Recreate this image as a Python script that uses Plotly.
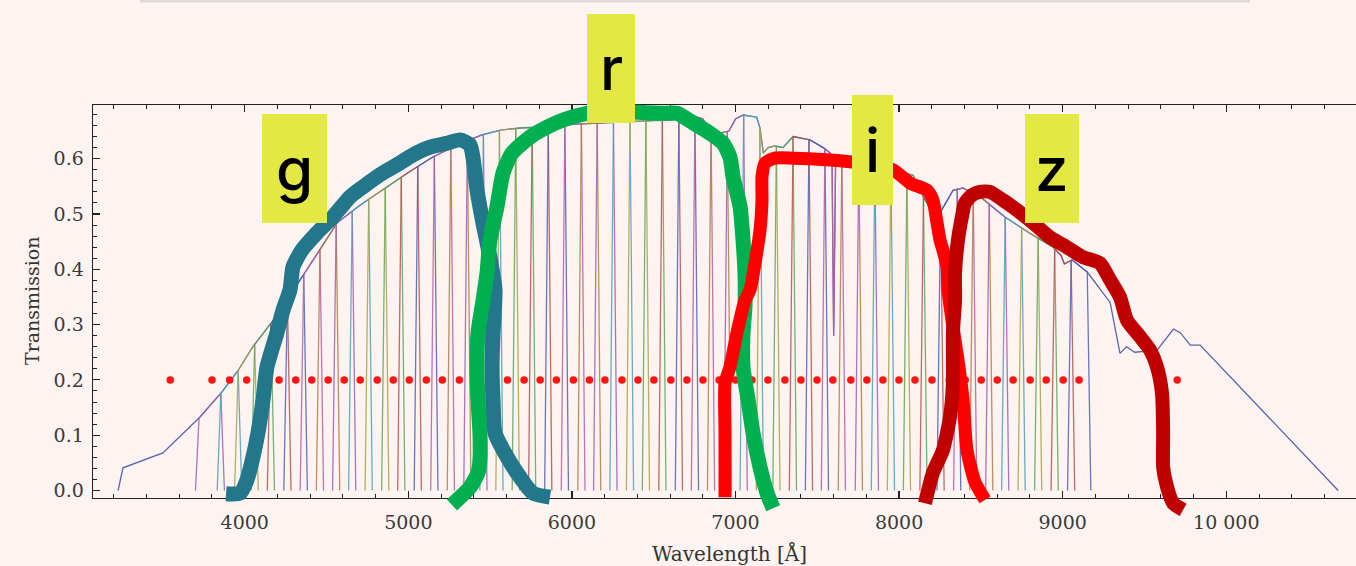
import numpy as np
import plotly.graph_objects as go

W, H = 1356, 566
BG = "#fdf4f1"

# ---------------- data ----------------
# overall system transmission envelope (wavelength in Angstrom, transmission)
env_wl = [3226, 3256, 3500, 3727, 3860, 3960, 4050, 4175, 4350, 4460, 4565, 4700, 4850,
          5000, 5150, 5300, 5450, 5570, 5700, 5850, 6000, 6200, 6400, 6600, 6700, 6765,
          6800, 6830, 6900, 6960, 7000, 7047, 7130, 7150, 7170, 7200, 7242, 7290, 7352,
          7456, 7537, 7580, 7590, 7600, 7612, 7650, 7750, 7850, 7966, 8085, 8150, 8200,
          8250, 8330, 8390, 8500, 8649, 8800, 8942, 8990, 9010, 9058, 9150, 9290, 9350,
          9390, 9440, 9577, 9677, 9720, 9780, 9840, 10684]
env_t = [0.0, 0.041, 0.068, 0.133, 0.178, 0.217, 0.26, 0.308, 0.386, 0.435, 0.484, 0.515, 0.545,
         0.575, 0.603, 0.625, 0.643, 0.652, 0.656, 0.657, 0.662, 0.665, 0.668, 0.670, 0.672, 0.675,
         0.672, 0.657, 0.646, 0.650, 0.672, 0.679, 0.675, 0.655, 0.61, 0.62, 0.623, 0.62, 0.64,
         0.634, 0.62, 0.61, 0.60, 0.28, 0.60, 0.60, 0.595, 0.59, 0.58, 0.57, 0.53, 0.505,
         0.502, 0.543, 0.547, 0.53, 0.494, 0.465, 0.44, 0.425, 0.41, 0.417, 0.395, 0.34, 0.248,
         0.26, 0.25, 0.254, 0.292, 0.285, 0.263, 0.263, 0.0]

# filter central wavelengths (red dots)
dot_wl = [3545, 3800, 3908, 4012, 4110, 4210, 4312, 4410, 4510, 4608, 4706, 4810, 4908,
          5006, 5110, 5208, 5312, 5410, 5508, 5606, 5708, 5806, 5905, 6009, 6107, 6202,
          6306, 6404, 6501, 6605, 6703, 6801, 6900, 7000, 7100, 7198, 7302, 7400, 7498,
          7595, 7705, 7803, 7901, 7999, 8097, 8201, 8306, 8404, 8502, 8600, 8697, 8801,
          8899, 9003, 9100, 9700]
dot_t = [0.2] * len(dot_wl)
narrow_first_edge = 3721
narrow_last_edge = 9150

# hand-drawn broad band outlines
g_wl = [3886, 3971, 4014, 4051, 4081, 4112, 4136, 4197, 4234, 4277, 4295, 4350, 4442, 4540,
        4644, 4723, 4827, 4931, 5029, 5133, 5236, 5316, 5377, 5395, 5420, 5456, 5499, 5530,
        5518, 5512, 5518, 5530, 5603, 5683, 5762, 5866]
g_t = [-0.006, -0.005, 0.019, 0.061, 0.104, 0.164, 0.223, 0.285, 0.326, 0.363, 0.404, 0.435,
       0.466, 0.495, 0.531, 0.549, 0.571, 0.589, 0.607, 0.621, 0.628, 0.634, 0.625, 0.603,
       0.543, 0.484, 0.422, 0.363, 0.285, 0.223, 0.164, 0.104, 0.061, 0.024, -0.005, -0.012]

r_wl = [5267, 5377, 5426, 5438, 5438, 5426, 5420, 5426, 5457, 5481, 5499, 5542, 5579, 5634,
        5744, 5848, 5946, 6092, 6233, 6386, 6557, 6642, 6740, 6844, 6924, 6966, 6985, 7028,
        7046, 7058, 7058, 7046, 7046, 7077, 7107, 7150, 7193, 7230]
r_t = [-0.026, 0.006, 0.032, 0.055, 0.104, 0.164, 0.223, 0.285, 0.344, 0.393, 0.453, 0.513,
       0.574, 0.610, 0.639, 0.657, 0.670, 0.682, 0.686, 0.684, 0.682, 0.682, 0.665, 0.646,
       0.628, 0.603, 0.567, 0.513, 0.453, 0.393, 0.332, 0.285, 0.223, 0.164, 0.104, 0.042,
       -0.005, -0.032]

i_wl = [6936, 6936, 6936, 6966, 7009, 7058, 7089, 7119, 7150, 7162, 7162, 7180, 7241, 7351,
        7559, 7712, 7834, 7963, 8067, 8171, 8207, 8232, 8250, 8268, 8293, 8299, 8323, 8360,
        8391, 8415, 8464, 8525]
i_t = [-0.012, 0.104, 0.194, 0.223, 0.285, 0.344, 0.363, 0.411, 0.471, 0.525, 0.567, 0.592,
       0.601, 0.601, 0.598, 0.594, 0.589, 0.580, 0.556, 0.543, 0.525, 0.484, 0.453, 0.435,
       0.404, 0.363, 0.308, 0.236, 0.164, 0.073, 0.015, -0.017]

z_wl = [8158, 8207, 8268, 8311, 8329, 8329, 8342, 8342, 8360, 8384, 8403, 8445, 8494, 8555,
        8635, 8721, 8819, 8922, 9026, 9124, 9228, 9289, 9350, 9393, 9473, 9534, 9577, 9607,
        9614, 9614, 9638, 9675, 9736]
z_t = [-0.023, 0.032, 0.073, 0.133, 0.194, 0.285, 0.344, 0.393, 0.453, 0.495, 0.520, 0.534,
       0.540, 0.540, 0.525, 0.507, 0.484, 0.458, 0.440, 0.422, 0.411, 0.381, 0.350, 0.308,
       0.278, 0.254, 0.223, 0.176, 0.104, 0.042, 0.006, -0.023, -0.035]

x_tickvals = [4000, 5000, 6000, 7000, 8000, 9000, 10000]
x_ticktext = ["4000", "5000", "6000", "7000", "8000", "9000", "10 000"]
y_tickvals = [0.0, 0.1, 0.2, 0.3, 0.4, 0.5, 0.6]
y_ticktext = ["0.0", "0.1", "0.2", "0.3", "0.4", "0.5", "0.6"]

band_labels = ["g", "r", "i", "z"]

# ---------------- figure ----------------
fig = go.Figure()

fig.add_trace(go.Scatter(x=env_wl, y=env_t, mode="lines",
                         line=dict(color="#5a62ae", width=1.3),
                         xaxis="x", yaxis="y", hoverinfo="skip", showlegend=False))

palette = ["#9a5fb0", "#4f9fb5", "#a7a24b", "#5ca65a", "#b0524f", "#4f5fb3", "#b55fa0", "#b07a45"]
centres = dot_wl[1:-1]
edges = [narrow_first_edge] + [(a + b) / 2 for a, b in zip(centres[:-1], centres[1:])] + [narrow_last_edge]
leg = 22
env_wl_a = np.array(env_wl, float)
env_t_a = np.array(env_t, float)
for k in range(len(centres)):
    lo, hi = edges[k], edges[k + 1]
    inside = (env_wl_a > lo) & (env_wl_a < hi)
    xs = [lo - leg, lo] + list(env_wl_a[inside]) + [hi, hi + leg]
    ys = [0.0, float(np.interp(lo, env_wl_a, env_t_a))] + list(env_t_a[inside]) + \
         [float(np.interp(hi, env_wl_a, env_t_a)), 0.0]
    fig.add_trace(go.Scatter(x=xs, y=ys, mode="lines",
                             line=dict(color=palette[k % len(palette)], width=1.3),
                             opacity=0.85, xaxis="x", yaxis="y",
                             hoverinfo="skip", showlegend=False))

fig.add_trace(go.Scatter(x=dot_wl, y=dot_t, mode="markers",
                         marker=dict(color="#ff1414", size=7.5),
                         xaxis="x", yaxis="y", hoverinfo="skip", showlegend=False))

for xs, ys, col, wd in [(g_wl, g_t, "#22788a", 15), (r_wl, r_t, "#00b050", 15),
                        (i_wl, i_t, "#ff0000", 13), (z_wl, z_t, "#c00000", 14)]:
    fig.add_trace(go.Scatter(x=xs, y=ys, mode="lines",
                             line=dict(color=col, width=wd, shape="spline", smoothing=0.6),
                             xaxis="x2", yaxis="y2", hoverinfo="skip", showlegend=False))

# ---------------- layout ----------------
def px_x(p):
    return p / W

def px_y(p):
    return 1 - p / H

tickfont = dict(family="DejaVu Serif", size=19, color="#3a3a3a")
fig.update_layout(
    width=W, height=H, autosize=False,
    margin=dict(l=0, r=0, t=0, b=0, pad=0),
    paper_bgcolor=BG, plot_bgcolor="rgba(0,0,0,0)",
    showlegend=False,
    xaxis=dict(domain=[px_x(93), 1], range=[3072.7, 10792.8], anchor="y",
               showline=True, linecolor="#222", linewidth=1.4, mirror="ticks",
               ticks="inside", ticklen=7, tickwidth=1.2, tickcolor="#222",
               tickmode="array", tickvals=x_tickvals, ticktext=x_ticktext,
               tickfont=tickfont, ticklabelstandoff=7,
               minor=dict(dtick=200, tick0=0, ticks="inside", ticklen=4,
                          tickwidth=1, tickcolor="#222", showgrid=False),
               showgrid=False, zeroline=False, automargin=False, fixedrange=True),
    yaxis=dict(domain=[px_y(498), px_y(105)], range=[-0.01356, 0.69711], anchor="x",
               showline=True, linecolor="#222", linewidth=1.4, mirror=False,
               ticks="inside", ticklen=7, tickwidth=1.2, tickcolor="#222",
               tickmode="array", tickvals=y_tickvals, ticktext=y_ticktext,
               tickfont=tickfont, ticklabelstandoff=4,
               minor=dict(dtick=0.02, tick0=0, ticks="inside", ticklen=4,
                          tickwidth=1, tickcolor="#222", showgrid=False),
               showgrid=False, zeroline=False, automargin=False, fixedrange=True),
    xaxis2=dict(domain=[0, 1], range=[2504.3, 10792.8], anchor="y2", visible=False,
                fixedrange=True),
    yaxis2=dict(domain=[0, 1], range=[-0.13653, 0.88698], anchor="x2", visible=False,
                fixedrange=True),
)

# faint shadow at the very top
fig.add_shape(type="line", xref="paper", yref="paper", x0=px_x(140), x1=px_x(1250),
              y0=px_y(1), y1=px_y(1), line=dict(color="rgba(120,120,120,0.22)", width=3))

boxes = {"g": (262, 327, 114, 223), "r": (587, 635, 14, 123),
         "i": (852, 893, 95, 205), "z": (1025, 1079, 114, 223)}
for lab in band_labels:
    x0, x1, y0, y1 = boxes[lab]
    fig.add_shape(type="rect", xref="paper", yref="paper",
                  x0=px_x(x0), x1=px_x(x1), y0=px_y(y1), y1=px_y(y0),
                  fillcolor="#e3e842", line=dict(width=0), layer="above")
    fig.add_annotation(x=px_x((x0 + x1) / 2), y=px_y((y0 + y1) / 2), xref="paper", yref="paper",
                       text=lab, showarrow=False, xanchor="center", yanchor="middle",
                       font=dict(family="Inter", size=60, color="#000", weight=500))

fig.add_annotation(x=px_x(32), y=px_y(301), xref="paper", yref="paper", text="Transmission",
                   textangle=-90, showarrow=False, xanchor="center", yanchor="middle",
                   font=dict(family="DejaVu Serif", size=19, color="#333"))
fig.add_annotation(x=px_x(729), y=px_y(553), xref="paper", yref="paper", text="Wavelength [Å]",
                   showarrow=False, xanchor="center", yanchor="middle",
                   font=dict(family="DejaVu Serif", size=20, color="#333"))

fig.write_html("out.html", config={"displayModeBar": False, "staticPlot": True},
               post_script="document.body.style.margin='0';document.body.style.overflow='hidden';")
